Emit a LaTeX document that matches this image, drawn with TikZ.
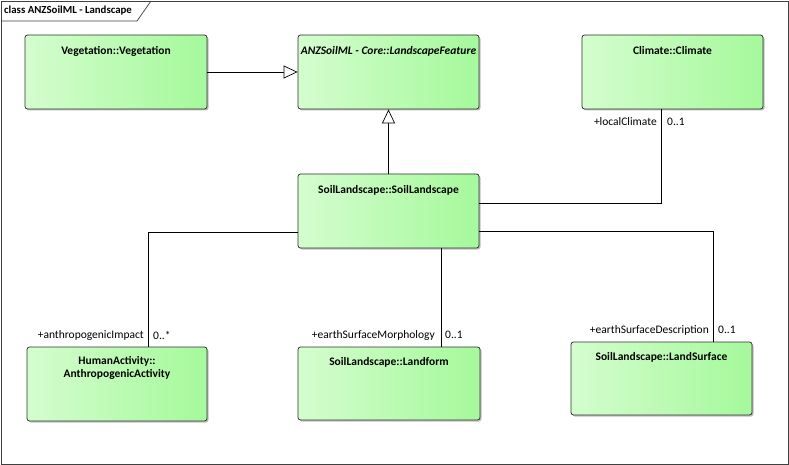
\documentclass[tikz,border=0pt]{standalone}
\usepackage{fontspec}
\setmainfont{Carlito}
\usetikzlibrary{arrows.meta,shadows,calc}
\definecolor{boxL}{RGB}{212,253,206}
\definecolor{boxR}{RGB}{165,249,155}
\definecolor{boxD}{RGB}{50,50,50}
\tikzset{
  cls/.style={draw=boxD, line width=0.8pt, rounded corners=2.5pt, left color=boxL, right color=boxR,
    drop shadow={shadow xshift=1.5pt, shadow yshift=-1.5pt, opacity=0.25, fill=black}, inner sep=0pt},
  clsname/.style={font=\fontsize{11.5}{13.5}\selectfont\bfseries, anchor=center, align=center, inner sep=0pt},
  conn/.style={draw=black, line width=0.7pt},
  gen/.style={conn, -{Triangle[open, length=14pt, width=13pt, fill=white]}},
  rolelbl/.style={font=\fontsize{11.5}{13}\selectfont, inner sep=0pt},
}
\begin{document}
\begin{tikzpicture}[x=1pt,y=-1pt]
\useasboundingbox (0,0) rectangle (789,465);
\fill[white] (0,0) rectangle (789,465);
% frame
\draw[line width=0.7pt, draw=black!75] (1,1) rectangle (788,464);
\draw[line width=0.7pt, draw=black!75] (1,21) -- (137,21) -- (151,1);
\node[anchor=west, font=\fontsize{10.8}{13}\selectfont\bfseries, inner sep=0pt] (title) at (4,11) {class ANZSoilML - Landscape};

% boxes
\node[cls, minimum width=182, minimum height=74] (veg) at (116,72) {};
\node[cls, minimum width=181, minimum height=74] (lf)  at (388.5,72) {};
\node[cls, minimum width=181, minimum height=74] (cl)  at (672.5,72) {};
\node[cls, minimum width=181, minimum height=74] (sl)  at (388.5,211) {};
\node[cls, minimum width=180, minimum height=74] (ha)  at (117,384) {};
\node[cls, minimum width=182, minimum height=73] (lfm) at (389,383.5) {};
\node[cls, minimum width=181, minimum height=73] (ls)  at (661.5,378.5) {};

% names
\node[clsname] (vegN) at (116,51) {Vegetation::Vegetation};
\node[clsname, font=\fontsize{11.5}{13.5}\selectfont\bfseries\itshape] (lfN) at (388.5,51) {ANZSoilML - Core::LandscapeFeature};
\node[clsname] (clN) at (672.5,51) {Climate::Climate};
\node[clsname] (slN) at (388.5,190) {SoilLandscape::SoilLandscape};
\node[clsname] (haN) at (117,368) {HumanActivity::\\AnthropogenicActivity};
\node[clsname] (lfmN) at (389,362) {SoilLandscape::Landform};
\node[clsname] (lsN) at (661.5,357) {SoilLandscape::LandSurface};

% generalizations
\draw[gen] (veg.east) -- (lf.west);
\draw[gen] (sl.north) -- (lf.south);

% associations
\draw[conn] ([yshift=8pt]sl.east) -| ([xshift=-11.5pt]cl.south);
\draw[conn] ([yshift=-21pt]sl.west) -| ([xshift=31pt]ha.north);
\draw[conn] ([xshift=52.5pt]sl.south) -- ([xshift=52.5pt]sl.south |- lfm.north);
\draw[conn] ([yshift=-20pt]sl.east) -| ([xshift=51.5pt]ls.north);

% role labels
\node[rolelbl, anchor=east] (r1) at (657,122) {+localClimate};
\node[rolelbl, anchor=west] (m1) at (667,122) {0..1};
\node[rolelbl, anchor=east] (r2) at (144,335) {+anthropogenicImpact};
\node[rolelbl, anchor=west] (m2) at (153,335) {0..*};
\node[rolelbl, anchor=east] (r3) at (435,335) {+earthSurfaceMorphology};
\node[rolelbl, anchor=west] (m3) at (445,335) {0..1};
\node[rolelbl, anchor=east] (r4) at (709,330) {+earthSurfaceDescription};
\node[rolelbl, anchor=west] (m4) at (718,330) {0..1};
\end{tikzpicture}
\end{document}
